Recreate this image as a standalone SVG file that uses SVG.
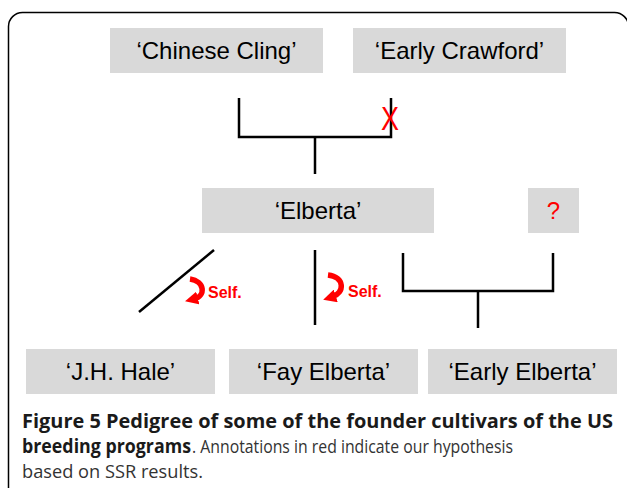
<svg xmlns="http://www.w3.org/2000/svg" width="627" height="488" viewBox="0 0 627 488">
<defs>
<style>
.box{fill:#d9d9d9;}
.lbl{font-family:"Liberation Sans",Arial,sans-serif;font-size:24px;fill:#000;text-anchor:middle;}
.ln{stroke:#000;stroke-width:2.5;fill:none;}
.red{font-family:"Liberation Sans",Arial,sans-serif;font-weight:bold;font-size:16px;fill:#ff0000;}
.arr{stroke:#ff0000;stroke-width:5.5;fill:none;}
.cap{font-family:"Open Sans","Noto Sans",sans-serif;font-size:19px;fill:#333;}
.capb{font-weight:bold;fill:#1a1a1a;}
</style>
<marker id="ah" viewBox="0 0 10 10" refX="3" refY="5" markerWidth="2.4" markerHeight="2.4" orient="auto" markerUnits="strokeWidth">
<path d="M0,0 L10,5 L0,10 z" fill="#ff0000"/>
</marker>
</defs>
<rect x="8.5" y="12.5" width="620" height="500" rx="14" ry="14" fill="#fff" stroke="#000" stroke-width="1.5"/>

<g id="connectors">
<polyline class="ln" points="239,98 239,137 391,137 391,98"/>
<line class="ln" x1="315" y1="137" x2="315" y2="174"/>
<line class="ln" x1="139" y1="312" x2="214" y2="250"/>
<line class="ln" x1="315" y1="250" x2="315" y2="325"/>
<polyline class="ln" points="403,253 403,291 553,291 553,253"/>
<line class="ln" x1="478" y1="291" x2="478" y2="328"/>
</g>

<g id="annotations">
<text x="390" y="130" font-family="Liberation Sans,Arial,sans-serif" font-size="34" fill="#ff0000" text-anchor="middle" textLength="18" lengthAdjust="spacingAndGlyphs">X</text>
<path class="arr" d="M190,279 C205,281 206,296 194,299" marker-end="url(#ah)"/>
<text class="red" x="208" y="298">Self.</text>
<path class="arr" d="M328,275 C345,277 345,293 332,297" marker-end="url(#ah)"/>
<text class="red" x="348" y="297">Self.</text>
</g>

<g id="chinese-cling"><rect class="box" x="110" y="28" width="213" height="45"/><text class="lbl" x="216.5" y="59">‘Chinese Cling’</text></g>
<g id="early-crawford"><rect class="box" x="353" y="28" width="213" height="45"/><text class="lbl" x="459.5" y="59">‘Early Crawford’</text></g>
<g id="elberta"><rect class="box" x="202" y="188" width="232" height="45"/><text class="lbl" x="318" y="219">‘Elberta’</text></g>
<g id="unknown"><rect class="box" x="528" y="188" width="51" height="45"/><text class="lbl" x="553.5" y="219" style="fill:#ff0000">?</text></g>
<g id="jh-hale"><rect class="box" x="26" y="349" width="189" height="45"/><text class="lbl" x="120.5" y="380">‘J.H. Hale’</text></g>
<g id="fay-elberta"><rect class="box" x="229" y="349" width="189" height="45"/><text class="lbl" x="323.5" y="380">‘Fay Elberta’</text></g>
<g id="early-elberta"><rect class="box" x="428" y="349" width="189" height="45"/><text class="lbl" x="522.5" y="380">‘Early Elberta’</text></g>

<g id="caption">
<text class="cap capb" x="22" y="428" textLength="591" lengthAdjust="spacingAndGlyphs">Figure 5 Pedigree of some of the founder cultivars of the US</text>
<text class="cap" y="453"><tspan class="capb" x="22" textLength="169" lengthAdjust="spacingAndGlyphs">breeding programs</tspan><tspan x="192" textLength="321" lengthAdjust="spacingAndGlyphs">. Annotations in red indicate our hypothesis</tspan></text>
<text class="cap" x="22" y="478" textLength="181" lengthAdjust="spacingAndGlyphs">based on SSR results.</text>
</g>
</svg>
